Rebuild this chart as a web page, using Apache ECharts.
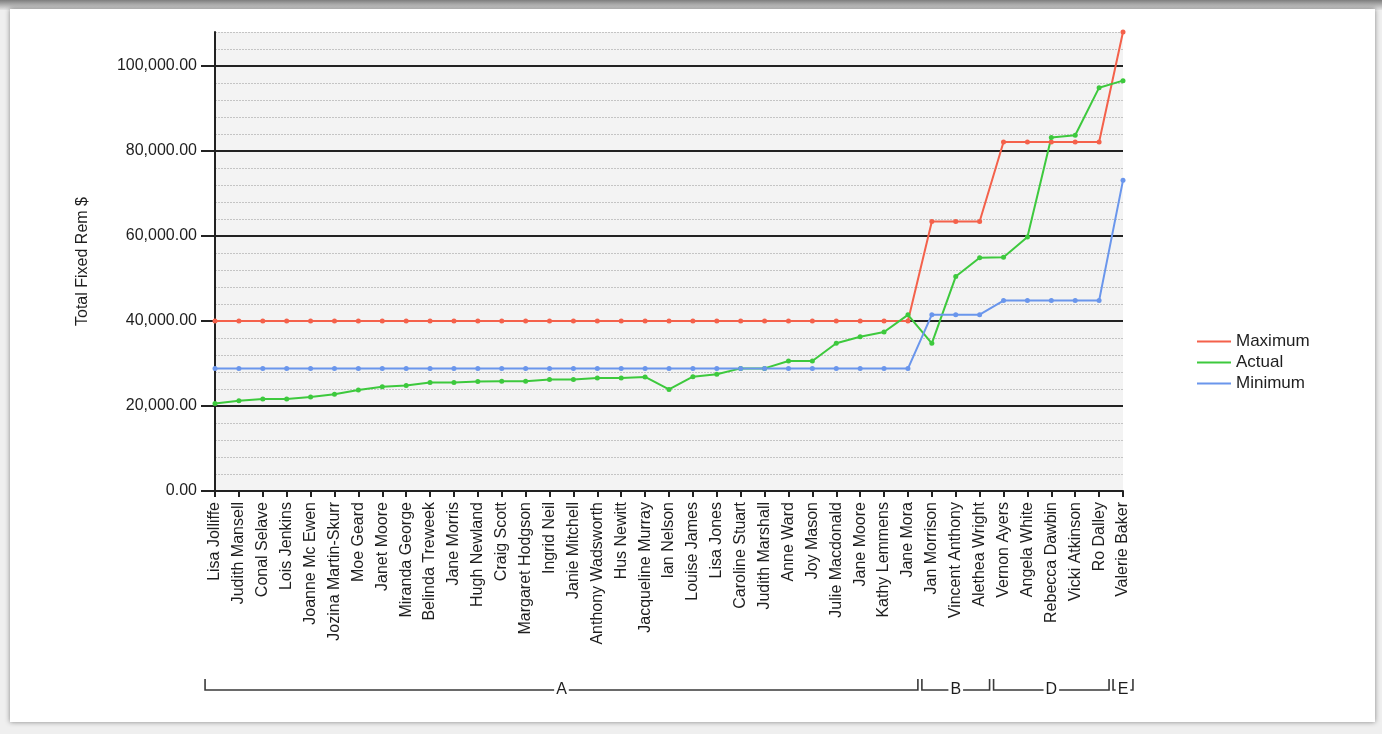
<!DOCTYPE html>
<html>
<head>
<meta charset="utf-8">
<title>Total Fixed Rem</title>
<script src="https://cdn.jsdelivr.net/npm/echarts@6/dist/echarts.min.js"></script>
<style>
  html, body { margin: 0; padding: 0; width: 1382px; height: 734px; overflow: hidden; background: #efefef; }
  #topband { position: absolute; left: 0; top: 0; width: 1382px; height: 10px;
             background: linear-gradient(#7d7d7d, #bdbdbd 60%, #e6e6e6); }
  #panel { position: absolute; left: 10px; top: 9px; width: 1365px; height: 713px; background: #ffffff;
           box-shadow: 0 0 5px rgba(0,0,0,0.45); }
  #chart { position: absolute; left: 0; top: 0; width: 1382px; height: 734px; }
</style>
</head>
<body>
<div id="topband"></div>
<div id="panel"></div>
<div id="chart"></div>
<script>
// Staff, ordered by actual total fixed remuneration within each band
const employees = [
  'Lisa Jolliffe', 'Judith Mansell', 'Conal Selave', 'Lois Jenkins', 'Joanne Mc Ewen',
  'Jozina Martin-Skurr', 'Moe Geard', 'Janet Moore', 'Miranda George', 'Belinda Treweek',
  'Jane Morris', 'Hugh Newland', 'Craig Scott', 'Margaret Hodgson', 'Ingrid Neil',
  'Janie Mitchell', 'Anthony Wadsworth', 'Hus Newitt', 'Jacqueline Murray', 'Ian Nelson',
  'Louise James', 'Lisa Jones', 'Caroline Stuart', 'Judith Marshall', 'Anne Ward',
  'Joy Mason', 'Julie Macdonald', 'Jane Moore', 'Kathy Lemmens', 'Jane Mora',
  'Jan Morrison', 'Vincent Anthony', 'Alethea Wright', 'Vernon Ayers', 'Angela White',
  'Rebecca Dawbin', 'Vicki Atkinson', 'Ro Dalley', 'Valerie Baker'
];

// Band maximum for each employee
const maximumRem = [
  40000, 40000, 40000, 40000, 40000, 40000, 40000, 40000, 40000, 40000,
  40000, 40000, 40000, 40000, 40000, 40000, 40000, 40000, 40000, 40000,
  40000, 40000, 40000, 40000, 40000, 40000, 40000, 40000, 40000, 40000,
  63400, 63400, 63400, 82100, 82100, 82100, 82100, 82100, 108000
];

// Actual total fixed remuneration
const actualRem = [
  20600, 21250, 21650, 21650, 22100, 22750, 23750, 24550, 24800, 25550,
  25550, 25750, 25800, 25800, 26250, 26250, 26600, 26600, 26850, 23900,
  26900, 27450, 28850, 28850, 30600, 30600, 34750, 36300, 37400, 41450,
  34750, 50450, 54900, 55000, 59750, 83200, 83700, 94900, 96550
];

// Band minimum for each employee
const minimumRem = [
  28800, 28800, 28800, 28800, 28800, 28800, 28800, 28800, 28800, 28800,
  28800, 28800, 28800, 28800, 28800, 28800, 28800, 28800, 28800, 28800,
  28800, 28800, 28800, 28800, 28800, 28800, 28800, 28800, 28800, 28800,
  41500, 41500, 41500, 44800, 44800, 44800, 44800, 44800, 73100
];

// Salary bands along the category axis (first and last employee index)
const bandNames = ['A', 'B', 'D', 'E'];
const bandFirst = [0, 30, 33, 38];
const bandLast = [29, 32, 37, 38];

// Value axis ticks
const yMajorTicks = [0, 20000, 40000, 60000, 80000, 100000];
const yMax = 108000;

const FONT = '"Liberation Sans", Arial, sans-serif';
const TEXT = '#1e1e1e';

const fmt = v => Number(v).toLocaleString('en-US', { minimumFractionDigits: 2, maximumFractionDigits: 2 });

const chart = echarts.init(document.getElementById('chart'), null, { renderer: 'canvas' });

const lineSeries = (name, data, color) => ({
  name, type: 'line', data, yAxisIndex: 1,
  symbol: 'circle', symbolSize: 5, showAllSymbol: true,
  lineStyle: { color, width: 2 },
  itemStyle: { color },
  emphasis: { disabled: true },
  animation: false
});

chart.setOption({
  backgroundColor: 'transparent',
  animation: false,
  textStyle: { fontFamily: FONT },
  grid: {
    left: 215, right: 259, top: 32, bottom: 243,
    show: true, backgroundColor: '#f3f3f3', borderWidth: 0
  },
  legend: {
    orient: 'vertical', left: 1192, top: 328,
    icon: 'path://M0,0 H34 V2 H0 Z',
    itemWidth: 34, itemHeight: 2, itemGap: 4,
    textStyle: { fontFamily: FONT, fontSize: 17, color: TEXT },
    data: ['Maximum', 'Actual', 'Minimum']
  },
  xAxis: {
    type: 'category', data: employees, boundaryGap: false,
    axisLine: { lineStyle: { color: '#222', width: 2 } },
    axisTick: { show: true, length: 6, lineStyle: { color: '#222', width: 2 }, alignWithLabel: true },
    axisLabel: { rotate: 90, interval: 0, margin: 11, fontFamily: FONT, fontSize: 16, color: TEXT },
    splitLine: { show: false }
  },
  yAxis: [
    {
      // fine dotted grid every 4,000
      type: 'value', min: 0, max: yMax, interval: 4000,
      axisLine: { show: true, lineStyle: { color: '#222', width: 2 } },
      axisTick: { show: false },
      axisLabel: { show: false },
      splitLine: { show: true, lineStyle: { color: '#c4c4c4', width: 1, type: [2, 1] } }
    },
    {
      // major grid, ticks and labels every 20,000
      type: 'value', min: 0, max: yMax, interval: 20000, position: 'left',
      name: 'Total Fixed Rem $', nameLocation: 'middle', nameRotate: 90, nameGap: 124,
      nameTextStyle: { fontFamily: FONT, fontSize: 16, color: TEXT },
      axisLine: { show: false },
      axisTick: { show: true, length: 14, customValues: yMajorTicks, lineStyle: { color: '#222', width: 2 } },
      axisLabel: { margin: 18, customValues: yMajorTicks, fontFamily: FONT, fontSize: 16, color: TEXT, formatter: fmt },
      splitLine: { show: true, showMinLine: false, lineStyle: { color: '#222', width: 2 } }
    }
  ],
  series: [
    lineSeries('Maximum', maximumRem, '#f4614b'),
    lineSeries('Actual', actualRem, '#3dc93d'),
    lineSeries('Minimum', minimumRem, '#6a96ec')
  ]
});

// Band brackets below the rotated names, placed from the category axis scale
function drawBands() {
  const px = i => chart.convertToPixel({ xAxisIndex: 0 }, i);
  const step = px(1) - px(0);
  const yLine = 690, hook = 11;
  const els = [];
  bandNames.forEach((name, k) => {
    const x0 = px(bandFirst[k]) - step / 2 + 2;
    const x1 = px(bandLast[k]) + step / 2 - 2;
    els.push({
      type: 'polyline', silent: true,
      shape: { points: [[x0, yLine - hook], [x0, yLine], [x1, yLine], [x1, yLine - hook]] },
      style: { stroke: '#3a3a3a', lineWidth: 1.6, fill: null }
    });
    els.push({
      type: 'text', silent: true, x: (x0 + x1) / 2, y: yLine,
      style: {
        text: name, fontFamily: FONT, fontSize: 16, fill: TEXT,
        align: 'center', verticalAlign: 'middle',
        backgroundColor: '#ffffff', padding: [0, 2]
      }
    });
  });
  chart.setOption({ graphic: els });
}
drawBands();
</script>
</body>
</html>
